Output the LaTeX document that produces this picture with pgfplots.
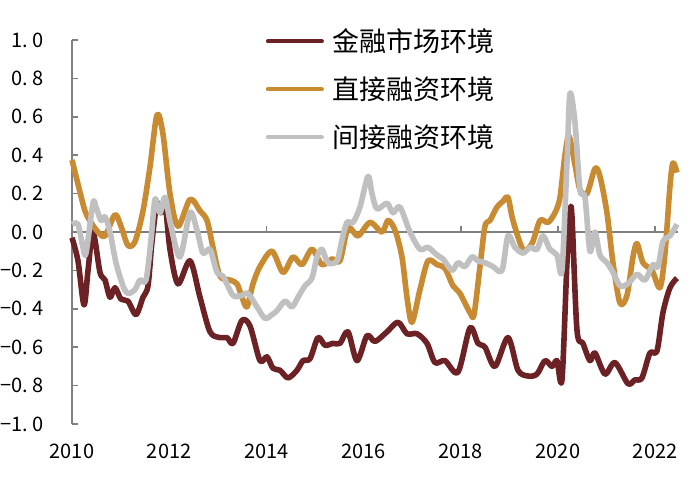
\documentclass[border=0pt]{standalone}
\usepackage{fontspec}
\setmainfont{Noto Sans CJK SC}
\usepackage{pgfplots}
\pgfplotsset{compat=1.18}
\definecolor{cM}{RGB}{108,34,36}
\definecolor{cO}{RGB}{201,139,50}
\definecolor{cG}{RGB}{192,192,192}
\definecolor{cA}{RGB}{128,128,128}
\newcommand{\dpt}{.\hspace{.22em}}
\begin{document}
\begin{tikzpicture}
\begin{axis}[
  scale only axis, width=303pt, height=192pt,
  xmin=2010, xmax=2022.47, ymin=-1, ymax=1,
  axis x line=middle, axis y line=left,
  axis line style={-, cA, line width=0.75pt},
  hide obscured x ticks=false, hide obscured y ticks=false,
  tick align=inside, major tick length=3pt,
  tick style={cA, line width=0.75pt},
  xtick={2010,2012,2014,2016,2018,2020,2022},
  xticklabels={2010,2012,2014,2016,2018,2020,2022},
  ytick={-1,-0.8,-0.6,-0.4,-0.2,0,0.2,0.4,0.6,0.8,1},
  yticklabels={−1\dpt 0,−0\dpt 8,−0\dpt 6,−0\dpt 4,−0\dpt 2,0\dpt 0,0\dpt 2,0\dpt 4,0\dpt 6,0\dpt 8,1\dpt 0},
  xticklabel style={font=\fontsize{10}{12}\selectfont, inner sep=0pt, anchor=north, yshift=-106pt},
  yticklabel style={font=\fontsize{10}{12}\selectfont, inner sep=0pt, anchor=east, xshift=-14pt},
  legend style={draw=none, fill=none, at={(rel axis cs:0.3193,1.031)}, anchor=north west,
    font=\fontsize{13.5}{16}\selectfont, row sep=11pt, column sep=4.5pt, inner sep=0pt,
    nodes={inner sep=0pt}},
  legend cell align=left,
  legend image code/.code={\draw[#1, line width=2pt, line cap=round] (1pt,0pt) -- (28pt,0pt);},
  clip=false,
]
\addplot[cM, line width=2.8pt, smooth, tension=0.5, line join=round] table {
2010.000 -0.03
2010.123 -0.15
2010.247 -0.38
2010.330 -0.20
2010.432 0.00
2010.576 -0.21
2010.679 -0.25
2010.782 -0.34
2010.885 -0.29
2011.008 -0.35
2011.152 -0.36
2011.317 -0.43
2011.461 -0.34
2011.564 -0.28
2011.646 -0.05
2011.749 0.15
2011.831 0.10
2011.914 0.15
2012.016 -0.09
2012.181 -0.27
2012.428 -0.15
2012.634 -0.34
2012.840 -0.52
2013.045 -0.55
2013.189 -0.55
2013.313 -0.58
2013.498 -0.46
2013.663 -0.49
2013.868 -0.67
2014.012 -0.65
2014.136 -0.71
2014.280 -0.72
2014.444 -0.76
2014.630 -0.72
2014.753 -0.67
2014.897 -0.66
2015.062 -0.55
2015.206 -0.59
2015.370 -0.58
2015.514 -0.58
2015.679 -0.52
2015.864 -0.67
2016.070 -0.54
2016.235 -0.57
2016.481 -0.52
2016.708 -0.47
2016.893 -0.53
2017.099 -0.53
2017.305 -0.58
2017.469 -0.68
2017.675 -0.67
2017.942 -0.73
2018.189 -0.50
2018.354 -0.58
2018.498 -0.60
2018.704 -0.70
2018.971 -0.55
2019.177 -0.72
2019.383 -0.75
2019.568 -0.74
2019.733 -0.67
2019.877 -0.70
2019.979 -0.67
2020.082 -0.77
2020.185 -0.16
2020.247 0.10
2020.288 0.08
2020.391 -0.51
2020.514 -0.58
2020.658 -0.67
2020.761 -0.63
2020.967 -0.74
2021.173 -0.68
2021.440 -0.79
2021.584 -0.77
2021.728 -0.76
2021.893 -0.63
2022.037 -0.62
2022.160 -0.42
2022.305 -0.29
2022.449 -0.24
};
\addlegendentry{金融市场环境}
\addplot[cO, line width=2.8pt, smooth, tension=0.5, line join=round] table {
2010.000 0.375
2010.123 0.25
2010.267 0.11
2010.391 0.05
2010.535 0.00
2010.679 -0.02
2010.885 0.09
2011.008 0.03
2011.152 -0.07
2011.296 -0.05
2011.461 0.11
2011.605 0.34
2011.749 0.61
2011.872 0.51
2012.016 0.20
2012.181 0.03
2012.428 0.17
2012.634 0.11
2012.778 0.06
2012.901 -0.08
2013.045 -0.23
2013.251 -0.25
2013.395 -0.27
2013.498 -0.34
2013.601 -0.39
2013.724 -0.27
2013.868 -0.18
2014.115 -0.10
2014.342 -0.21
2014.547 -0.13
2014.733 -0.17
2014.938 -0.09
2015.144 -0.17
2015.350 -0.14
2015.514 -0.15
2015.679 0.02
2015.885 -0.02
2016.132 0.05
2016.379 0.00
2016.502 0.06
2016.646 0.01
2016.790 -0.13
2016.893 -0.34
2016.996 -0.47
2017.160 -0.30
2017.325 -0.15
2017.510 -0.17
2017.675 -0.19
2017.840 -0.28
2017.984 -0.32
2018.189 -0.42
2018.272 -0.43
2018.395 -0.18
2018.498 0.03
2018.601 0.06
2018.745 0.13
2018.868 0.16
2018.971 0.18
2019.074 0.06
2019.280 -0.09
2019.465 -0.06
2019.630 0.06
2019.794 0.05
2019.938 0.10
2020.041 0.18
2020.144 0.40
2020.226 0.50
2020.350 0.35
2020.453 0.22
2020.597 0.20
2020.761 0.33
2020.864 0.29
2021.008 0.10
2021.132 -0.16
2021.276 -0.37
2021.420 -0.33
2021.543 -0.13
2021.626 -0.06
2021.749 -0.16
2021.934 -0.20
2022.099 -0.29
2022.202 -0.11
2022.305 0.24
2022.366 0.36
2022.449 0.31
};
\addlegendentry{直接融资环境}
\addplot[cG, line width=2.8pt, smooth, tension=0.5, line join=round] table {
2010.000 0.04
2010.123 0.04
2010.226 -0.08
2010.288 -0.11
2010.432 0.15
2010.494 0.13
2010.597 0.06
2010.679 0.08
2010.782 0.00
2010.905 -0.16
2011.049 -0.28
2011.152 -0.32
2011.296 -0.30
2011.399 -0.25
2011.523 -0.25
2011.626 -0.04
2011.708 0.17
2011.811 0.10
2011.914 0.18
2012.037 0.03
2012.222 -0.13
2012.428 0.10
2012.572 0.01
2012.695 -0.11
2012.840 -0.09
2012.984 -0.21
2013.107 -0.23
2013.313 -0.33
2013.498 -0.33
2013.621 -0.32
2013.807 -0.39
2013.971 -0.45
2014.115 -0.43
2014.218 -0.41
2014.383 -0.36
2014.527 -0.39
2014.650 -0.34
2014.794 -0.28
2014.938 -0.24
2015.041 -0.13
2015.144 -0.09
2015.267 -0.16
2015.453 -0.15
2015.556 -0.04
2015.658 0.05
2015.782 0.05
2015.926 0.13
2016.091 0.29
2016.173 0.20
2016.276 0.12
2016.481 0.15
2016.605 0.10
2016.749 0.13
2016.955 0.00
2017.160 -0.09
2017.325 -0.08
2017.510 -0.12
2017.634 -0.14
2017.819 -0.20
2017.942 -0.16
2018.086 -0.18
2018.230 -0.13
2018.354 -0.15
2018.498 -0.16
2018.663 -0.18
2018.848 -0.20
2018.971 -0.02
2019.115 -0.08
2019.280 -0.11
2019.424 -0.08
2019.568 -0.09
2019.691 -0.02
2019.835 -0.09
2019.979 -0.12
2020.082 -0.20
2020.185 0.36
2020.247 0.72
2020.350 0.57
2020.453 0.22
2020.556 0.18
2020.658 -0.10
2020.761 0.00
2020.864 -0.12
2021.008 -0.16
2021.132 -0.21
2021.276 -0.28
2021.440 -0.27
2021.626 -0.22
2021.790 -0.25
2021.955 -0.17
2022.058 -0.18
2022.160 -0.05
2022.305 -0.02
2022.449 0.04
};
\addlegendentry{间接融资环境}
\end{axis}
\pgfresetboundingbox
\useasboundingbox (-36pt,-29.5pt) rectangle (314pt,212pt);
\end{tikzpicture}
\end{document}
